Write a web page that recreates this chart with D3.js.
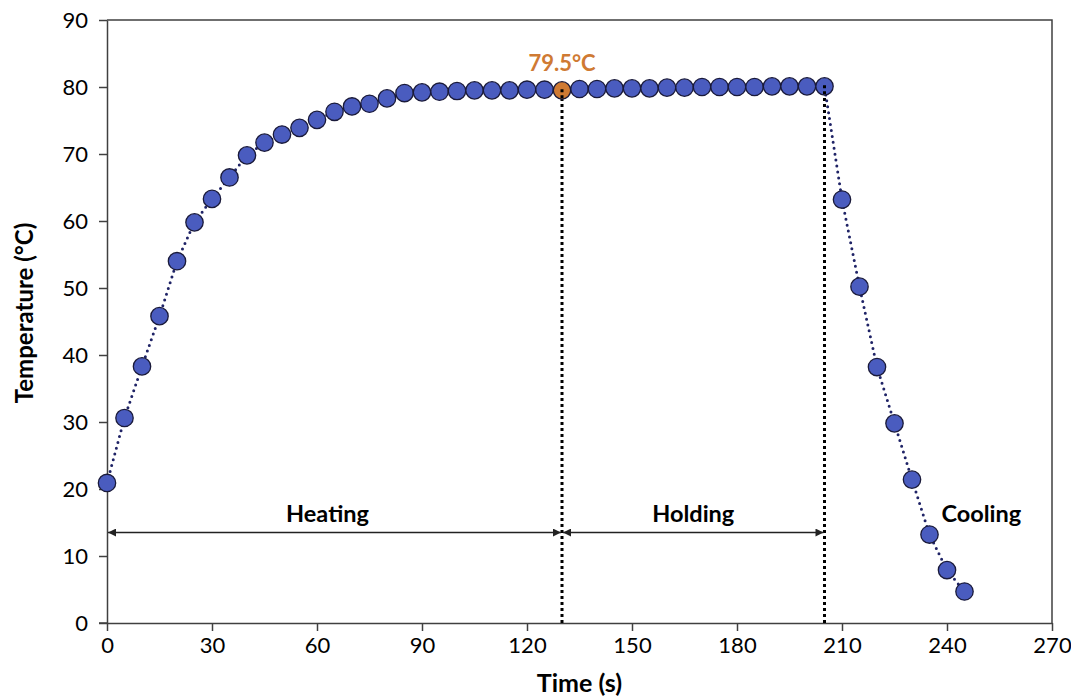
<!DOCTYPE html>
<html>
<head>
<meta charset="utf-8">
<script src="https://cdn.jsdelivr.net/npm/d3@7"></script>
<style>
  body { margin: 0; background: #fff; }
  text { font-family: Lato, "Open Sans", sans-serif; }
</style>
</head>
<body>
<div id="chart"></div>
<script>
// data (time in s, temperature in °C)
let times = [0, 5, 10, 15, 20, 25, 30, 35, 40, 45, 50, 55, 60, 65, 70, 75, 80, 85, 90, 95,
  100, 105, 110, 115, 120, 125, 130, 135, 140, 145, 150, 155, 160, 165, 170, 175, 180, 185, 190, 195,
  200, 205, 210, 215, 220, 225, 230, 235, 240, 245]
let temps = [20.9, 30.6, 38.3, 45.8, 54.0, 59.8, 63.3, 66.5, 69.8, 71.7, 72.9, 73.9, 75.1, 76.3, 77.1, 77.5, 78.3, 79.1, 79.2, 79.3,
  79.4, 79.5, 79.5, 79.5, 79.6, 79.6, 79.5, 79.7, 79.7, 79.8, 79.8, 79.8, 79.9, 79.9, 80.0, 80.0, 80.0, 80.0, 80.1, 80.1,
  80.1, 80.1, 63.2, 50.2, 38.2, 29.8, 21.4, 13.2, 7.9, 4.7]
let xTicks = [0, 30, 60, 90, 120, 150, 180, 210, 240, 270]
let yTicks = [0, 10, 20, 30, 40, 50, 60, 70, 80, 90]

// phases: boundaries, labels and where the labels sit (in s)
let phaseBounds = [0, 130, 205]
let phaseLabels = ['Heating', 'Holding', 'Cooling']
let phaseLabelX = [63, 167.5, 249.8]
let arrowY = 13.5
let markedTime = 130
let markedLabel = '79.5°C'

let width = 1071
let height = 699
let margin = { left: 107, right: 19, top: 20, bottom: 76 }

let svg = d3.select('#chart').append('svg')
  .attr('width', width)
  .attr('height', height)

let xScale = d3.scaleLinear().domain([0, 270]).range([margin.left, width - margin.right])
let yScale = d3.scaleLinear().domain([0, 90]).range([height - margin.bottom, margin.top])

let axisColor = '#404040'

// arrow markers
let defs = svg.append('defs')
defs.append('marker')
  .attr('id', 'arrowEnd')
  .attr('viewBox', '0 0 10 10')
  .attr('refX', 10).attr('refY', 5)
  .attr('markerWidth', 10).attr('markerHeight', 8)
  .attr('markerUnits', 'userSpaceOnUse')
  .attr('orient', 'auto')
  .append('path').attr('d', 'M0,0 L10,5 L0,10 Z').attr('fill', '#222')
defs.append('marker')
  .attr('id', 'arrowStart')
  .attr('viewBox', '0 0 10 10')
  .attr('refX', 0).attr('refY', 5)
  .attr('markerWidth', 10).attr('markerHeight', 8)
  .attr('markerUnits', 'userSpaceOnUse')
  .attr('orient', 'auto')
  .append('path').attr('d', 'M10,0 L0,5 L10,10 Z').attr('fill', '#222')

// frame (top and right)
svg.append('path')
  .attr('d', 'M' + xScale(0) + ',' + yScale(90) + ' H' + xScale(270) + ' V' + yScale(0))
  .attr('fill', 'none')
  .attr('stroke', axisColor)
  .attr('stroke-width', 1.5)

// x axis
let xAxis = svg.append('g')
  .attr('transform', 'translate(0,' + yScale(0) + ')')
  .call(d3.axisBottom(xScale).tickValues(xTicks).tickSize(8).tickSizeOuter(0).tickPadding(6))
xAxis.select('.domain').attr('stroke', axisColor).attr('stroke-width', 1.5)
xAxis.selectAll('line').attr('stroke', axisColor).attr('stroke-width', 1.5)
xAxis.selectAll('text').attr('font-size', 22).attr('fill', '#000')
  .attr('font-family', 'Lato, sans-serif')

// y axis
let yAxis = svg.append('g')
  .attr('transform', 'translate(' + xScale(0) + ',0)')
  .call(d3.axisLeft(yScale).tickValues(yTicks).tickSize(8).tickSizeOuter(0).tickPadding(11))
yAxis.select('.domain').attr('stroke', axisColor).attr('stroke-width', 1.5)
yAxis.selectAll('line').attr('stroke', axisColor).attr('stroke-width', 1.5)
yAxis.selectAll('text').attr('font-size', 22).attr('fill', '#000')
  .attr('font-family', 'Lato, sans-serif')

// extend x axis line left to the y tick length
svg.append('line')
  .attr('x1', xScale(0) - 8).attr('x2', xScale(0))
  .attr('y1', yScale(0)).attr('y2', yScale(0))
  .attr('stroke', axisColor).attr('stroke-width', 1.5)

// axis titles
svg.append('text')
  .attr('x', (xScale(0) + xScale(270)) / 2)
  .attr('y', 692)
  .attr('text-anchor', 'middle')
  .attr('font-size', 25)
  .attr('font-weight', 'bold')
  .text('Time (s)')

svg.append('text')
  .attr('transform', 'translate(33,313) rotate(-90)')
  .attr('text-anchor', 'middle')
  .attr('font-size', 24)
  .attr('font-weight', 'bold')
  .text('Temperature (°C)')

// vertical dotted phase boundaries
let tempAt = t => temps[times.indexOf(t)]
svg.append('g').selectAll('line')
  .data(phaseBounds.slice(1))
  .enter()
  .append('line')
  .attr('x1', d => xScale(d)).attr('x2', d => xScale(d))
  .attr('y1', yScale(0)).attr('y2', d => yScale(tempAt(d)))
  .attr('stroke', '#000')
  .attr('stroke-width', 3)
  .attr('stroke-dasharray', '3,3')

// phase arrows
let spans = d3.pairs(phaseBounds)
svg.append('g').selectAll('line')
  .data(spans)
  .enter()
  .append('line')
  .attr('x1', d => xScale(d[0]) + 1).attr('x2', d => xScale(d[1]) - 1)
  .attr('y1', yScale(arrowY)).attr('y2', yScale(arrowY))
  .attr('stroke', '#222')
  .attr('stroke-width', 1.5)
  .attr('marker-start', 'url(#arrowStart)')
  .attr('marker-end', 'url(#arrowEnd)')

// phase labels
svg.append('g').selectAll('text')
  .data(phaseLabels)
  .enter()
  .append('text')
  .attr('x', (d, i) => xScale(phaseLabelX[i]))
  .attr('y', yScale(arrowY) - 11)
  .attr('text-anchor', 'middle')
  .attr('font-size', 23.5)
  .attr('font-weight', 'bold')
  .text(d => d)

// dotted connecting line
let line = d3.line()
  .x((d, i) => xScale(times[i]))
  .y(d => yScale(d))
svg.append('path')
  .datum(temps)
  .attr('d', line)
  .attr('fill', 'none')
  .attr('stroke', '#1f2366')
  .attr('stroke-width', 3)
  .attr('stroke-dasharray', '0,6')
  .attr('stroke-linecap', 'round')

// points
svg.append('g').selectAll('circle')
  .data(temps)
  .enter()
  .append('circle')
  .attr('cx', (d, i) => xScale(times[i]))
  .attr('cy', d => yScale(d))
  .attr('r', 8.7)
  .attr('fill', (d, i) => times[i] === markedTime ? '#cf7a33' : '#4a5cbf')
  .attr('stroke', '#1a1a3a')
  .attr('stroke-width', 1.3)

// redraw dotted boundary over the marked points
svg.append('g').selectAll('line')
  .data(phaseBounds.slice(1))
  .enter()
  .append('line')
  .attr('x1', d => xScale(d)).attr('x2', d => xScale(d))
  .attr('y1', d => yScale(tempAt(d)) + 8).attr('y2', d => yScale(tempAt(d)) - 3)
  .attr('stroke', '#000')
  .attr('stroke-width', 3)
  .attr('stroke-dasharray', '3,3')

// marked value label
svg.append('text')
  .attr('x', xScale(markedTime))
  .attr('y', yScale(tempAt(markedTime)) - 19)
  .attr('text-anchor', 'middle')
  .attr('font-size', 22)
  .attr('font-weight', 'bold')
  .attr('fill', '#cf7a33')
  .text(markedLabel)
</script>
</body>
</html>
